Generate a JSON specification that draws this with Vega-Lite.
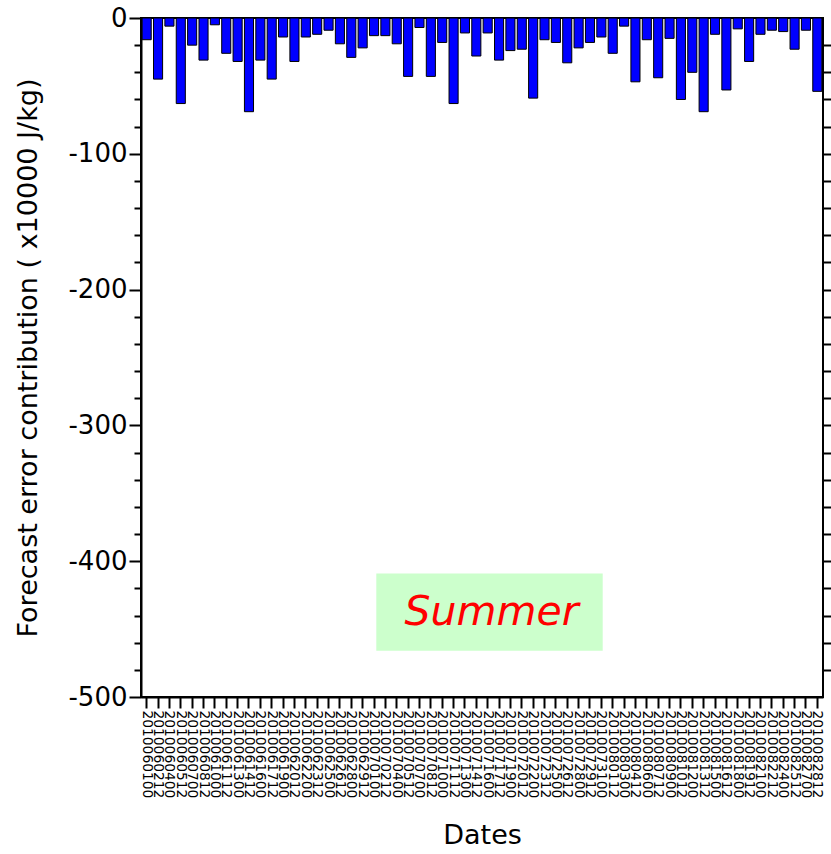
{
  "$schema": "https://vega.github.io/schema/vega-lite/v6.json",
  "width": 682,
  "height": 679,
  "autosize": "none",
  "padding": {"left": 141, "top": 18, "right": 8, "bottom": 157},
  "background": "white",
  "config": {
    "view": {"stroke": "black", "strokeWidth": 2},
    "axis": {"grid": false, "domainColor": "black", "domainWidth": 2, "tickColor": "black", "tickWidth": 2, "labelColor": "black", "titleColor": "black"}
  },
  "layer": [
    {
      "data": {
        "values": [
          {"date": "2010060100", "value": -16},
          {"date": "2010060212", "value": -45},
          {"date": "2010060400", "value": -6},
          {"date": "2010060512", "value": -63},
          {"date": "2010060700", "value": -20},
          {"date": "2010060812", "value": -31},
          {"date": "2010061000", "value": -5},
          {"date": "2010061112", "value": -26},
          {"date": "2010061300", "value": -32},
          {"date": "2010061412", "value": -69},
          {"date": "2010061600", "value": -31},
          {"date": "2010061712", "value": -45},
          {"date": "2010061900", "value": -14},
          {"date": "2010062012", "value": -32},
          {"date": "2010062200", "value": -14},
          {"date": "2010062312", "value": -12},
          {"date": "2010062500", "value": -9},
          {"date": "2010062612", "value": -19},
          {"date": "2010062800", "value": -29},
          {"date": "2010062912", "value": -22},
          {"date": "2010070100", "value": -13},
          {"date": "2010070212", "value": -13},
          {"date": "2010070400", "value": -19},
          {"date": "2010070512", "value": -43},
          {"date": "2010070700", "value": -7},
          {"date": "2010070812", "value": -43},
          {"date": "2010071000", "value": -18},
          {"date": "2010071112", "value": -63},
          {"date": "2010071300", "value": -11},
          {"date": "2010071412", "value": -28},
          {"date": "2010071600", "value": -11},
          {"date": "2010071712", "value": -31},
          {"date": "2010071900", "value": -24},
          {"date": "2010072012", "value": -23},
          {"date": "2010072200", "value": -59},
          {"date": "2010072312", "value": -16},
          {"date": "2010072500", "value": -18},
          {"date": "2010072612", "value": -33},
          {"date": "2010072800", "value": -22},
          {"date": "2010072912", "value": -18},
          {"date": "2010073100", "value": -14},
          {"date": "2010080112", "value": -26},
          {"date": "2010080300", "value": -6},
          {"date": "2010080412", "value": -47},
          {"date": "2010080600", "value": -16},
          {"date": "2010080712", "value": -44},
          {"date": "2010080900", "value": -15},
          {"date": "2010081012", "value": -60},
          {"date": "2010081200", "value": -40},
          {"date": "2010081312", "value": -69},
          {"date": "2010081500", "value": -12},
          {"date": "2010081612", "value": -53},
          {"date": "2010081800", "value": -8},
          {"date": "2010081912", "value": -32},
          {"date": "2010082100", "value": -12},
          {"date": "2010082212", "value": -9},
          {"date": "2010082400", "value": -10},
          {"date": "2010082512", "value": -23},
          {"date": "2010082700", "value": -9},
          {"date": "2010082812", "value": -54}
        ]
      },
      "mark": {"type": "bar", "fill": "#0000ff", "stroke": "black", "strokeWidth": 1},
      "encoding": {
        "x": {
          "field": "date",
          "type": "ordinal",
          "sort": null,
          "scale": {"paddingInner": 0.2, "paddingOuter": 0.1},
          "axis": {
            "title": "Dates",
            "titleFont": "DejaVu Sans",
            "titleFontSize": 27,
            "titleFontWeight": "normal",
            "titlePadding": 25,
            "labelAngle": 90,
            "labelAlign": "left",
            "labelBaseline": "middle",
            "labelFont": "DejaVu Sans",
            "labelFontSize": 13.8,
            "labelOverlap": false,
            "labelPadding": 2,
            "tickSize": 11
          }
        },
        "y": {
          "field": "value",
          "type": "quantitative",
          "scale": {"domain": [-500, 0], "nice": false},
          "axis": {
            "title": "Forecast error contribution ( x10000 J/kg)",
            "titleFont": "DejaVu Sans",
            "titleFontSize": 27,
            "titleFontWeight": "normal",
            "titlePadding": 25,
            "values": [-500, -400, -300, -200, -100, 0],
            "labelExpr": "replace(datum.label, '\u2212', '-')",
            "labelFont": "DejaVu Sans",
            "labelFontSize": 26,
            "labelPadding": 2,
            "tickSize": 12
          }
        }
      }
    },
    {
      "data": {"values": [{"x1": 0.345, "x2": 0.677, "y1": -409, "y2": -466}]},
      "mark": {"type": "rect", "fill": "#ccffcc"},
      "encoding": {
        "x": {"field": "x1", "type": "quantitative", "scale": {"domain": [0, 1]}, "axis": null},
        "x2": {"field": "x2"},
        "y": {
          "field": "y1",
          "type": "quantitative",
          "scale": {"domain": [-500, 0], "nice": false},
          "axis": {
            "orient": "left",
            "title": null,
            "labels": false,
            "domain": false,
            "tickSize": 7,
            "values": [-480, -460, -440, -420, -380, -360, -340, -320, -280, -260, -240, -220, -180, -160, -140, -120, -80, -60, -40, -20]
          }
        },
        "y2": {"field": "y2"}
      }
    },
    {
      "data": {"values": [{"tx": 0.514, "ty": -438, "label": "Summer"}]},
      "mark": {"type": "text", "color": "#ff0000", "font": "DejaVu Sans", "fontStyle": "italic", "fontSize": 41, "align": "center", "baseline": "middle"},
      "encoding": {
        "x": {"field": "tx", "type": "quantitative", "scale": {"domain": [0, 1]}, "axis": null},
        "y": {
          "field": "ty",
          "type": "quantitative",
          "scale": {"domain": [-500, 0], "nice": false},
          "axis": {
            "orient": "right",
            "title": null,
            "labels": false,
            "domain": false,
            "tickSize": 8,
            "values": [-480, -460, -440, -420, -400, -380, -360, -340, -320, -300, -280, -260, -240, -220, -200, -180, -160, -140, -120, -100, -80, -60, -40, -20]
          }
        },
        "text": {"field": "label"}
      }
    }
  ],
  "resolve": {"scale": {"x": "independent"}, "axis": {"y": "independent"}}
}
